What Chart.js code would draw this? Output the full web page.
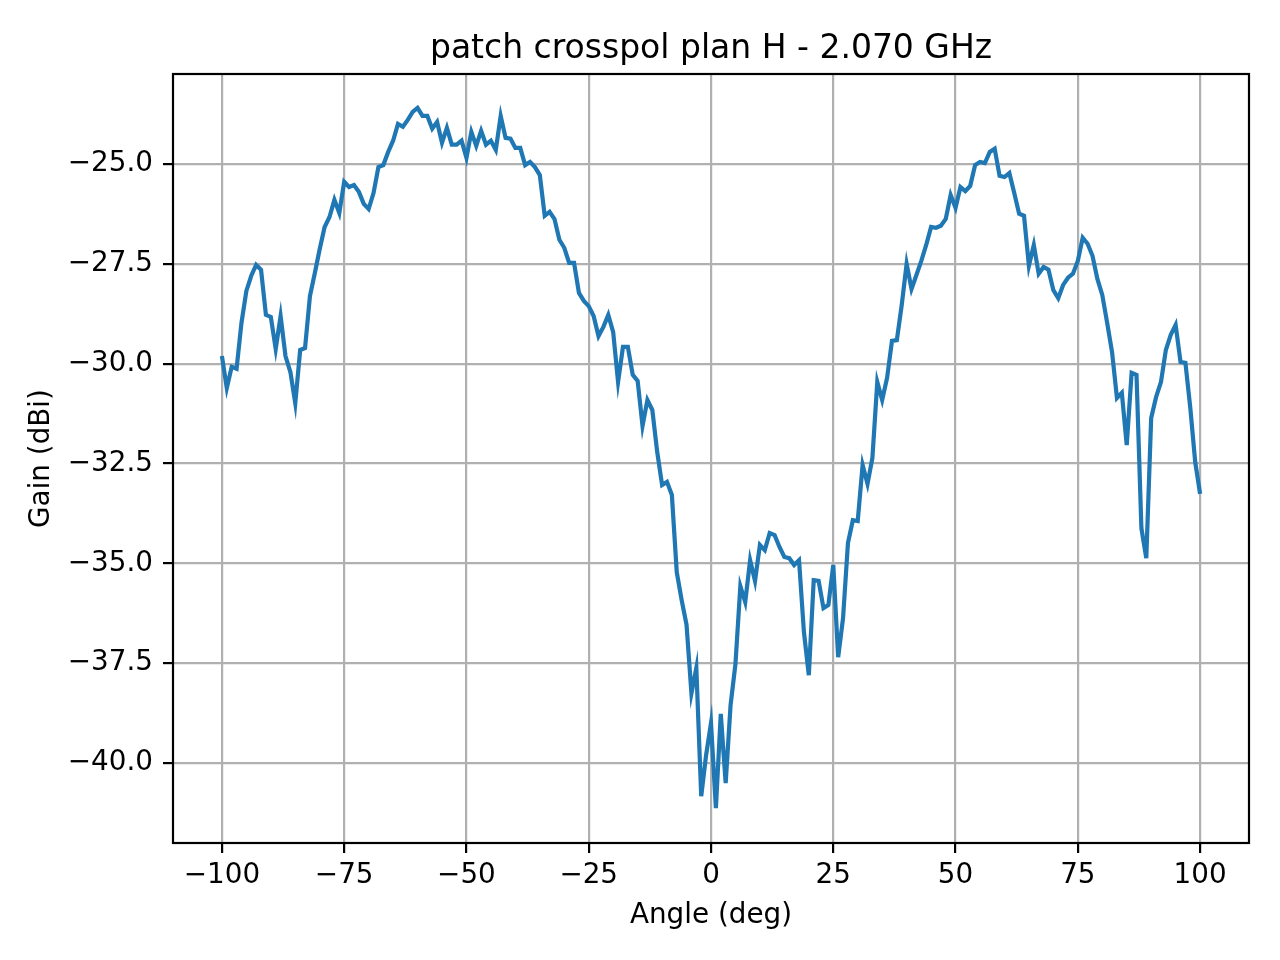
<!DOCTYPE html>
<html>
<head>
<meta charset="utf-8">
<script src="https://cdn.jsdelivr.net/npm/chart.js@4"></script>
<style>
  body { margin: 0; background: #fff; }
  canvas { display: block; }
</style>
</head>
<body>
<canvas id="myChart" width="1280" height="960"></canvas>
<script>
// angles de -100 a 100 deg, pas de 1
const angles = [];
for (let a = -100; a <= 100; a++) {
  angles.push(a);
}

// gain (dBi)
const gains = [
  -29.81, -30.61, -30.08, -30.13, -28.98, -28.18, -27.80, -27.53, -27.65, -28.78,
  -28.83, -29.63, -28.81, -29.81, -30.21, -30.99, -29.66, -29.61, -28.31, -27.73,
  -27.13, -26.58, -26.33, -25.90, -26.23, -25.45, -25.58, -25.53, -25.70, -26.00,
  -26.13, -25.73, -25.08, -25.03, -24.70, -24.42, -24.00, -24.07, -23.90, -23.70,
  -23.60, -23.80, -23.80, -24.12, -23.95, -24.47, -24.10, -24.52, -24.52, -24.42,
  -24.85, -24.20, -24.55, -24.17, -24.52, -24.42, -24.65, -23.80, -24.35, -24.37,
  -24.60, -24.60, -25.03, -24.95, -25.08, -25.28, -26.30, -26.20, -26.38, -26.90,
  -27.10, -27.48, -27.48, -28.23, -28.43, -28.56, -28.81, -29.31, -29.08, -28.78,
  -29.21, -30.46, -29.58, -29.58, -30.28, -30.43, -31.56, -30.91, -31.16, -32.21,
  -33.04, -32.96, -33.29, -35.22, -35.92, -36.54, -38.25, -37.62, -40.83, -39.80,
  -39.00, -41.13, -38.77, -40.50, -38.55, -37.52, -35.57, -35.97, -34.92, -35.44,
  -34.54, -34.67, -34.24, -34.29, -34.59, -34.84, -34.87, -35.04, -34.92, -36.72,
  -37.80, -35.42, -35.44, -36.12, -36.04, -35.04, -37.35, -36.37, -34.49, -33.92,
  -33.94, -32.54, -33.01, -32.36, -30.46, -30.91, -30.36, -29.43, -29.41, -28.53,
  -27.50, -28.13, -27.78, -27.43, -27.03, -26.58, -26.60, -26.55, -26.38, -25.78,
  -26.10, -25.58, -25.68, -25.55, -25.03, -24.95, -24.98, -24.70, -24.62, -25.30,
  -25.33, -25.23, -25.73, -26.25, -26.30, -27.55, -27.03, -27.75, -27.58, -27.65,
  -28.16, -28.36, -28.03, -27.85, -27.75, -27.43, -26.85, -27.00, -27.30, -27.88,
  -28.28, -28.98, -29.71, -30.86, -30.73, -32.04, -30.23, -30.28, -34.12, -34.87,
  -31.36, -30.84, -30.46, -29.66, -29.28, -29.03, -29.96, -29.98, -31.11, -32.46,
  -33.26
];

// graduations
const xTicks = [-100, -75, -50, -25, 0, 25, 50, 75, 100];
const yTicks = [-40, -37.5, -35, -32.5, -30, -27.5, -25];

const FONT = "'DejaVu Sans', sans-serif";

function minus(s) {
  return s.replace("-", "\u2212"); // signe moins typographique
}

// cadre complet (haut et droite inclus)
const framePlugin = {
  id: "frame",
  afterDatasetsDraw(chart) {
    const { ctx, chartArea: a } = chart;
    ctx.save();
    ctx.strokeStyle = "#000";
    ctx.lineWidth = 2.2;
    ctx.strokeRect(a.left, a.top, a.right - a.left, a.bottom - a.top);
    ctx.restore();
  },
};

const config = {
  type: "line",
  data: {
    datasets: [
      {
        data: angles.map((a, i) => ({ x: a, y: gains[i] })),
        borderColor: "#1f77b4",
        borderWidth: 4.2,
        pointRadius: 0,
        tension: 0,
        fill: false,
      },
    ],
  },
  options: {
    responsive: false,
    animation: false,
    devicePixelRatio: 1,
    layout: { padding: { left: 0, right: 31, top: 0, bottom: 0 } },
    plugins: {
      legend: { display: false },
      tooltip: { enabled: false },
      title: {
        display: true,
        fullSize: false,
        text: "patch crosspol plan H - 2.070 GHz",
        color: "#000",
        font: { family: FONT, size: 33, weight: "normal", lineHeight: 1.2 },
        padding: { top: 30, bottom: 4.4 },
      },
    },
    scales: {
      x: {
        type: "linear",
        min: -110,
        max: 110,
        afterBuildTicks(scale) {
          scale.ticks = xTicks.map((v) => ({ value: v }));
        },
        afterFit(scale) {
          scale.height = 117;
        },
        grid: {
          color: "#b0b0b0",
          lineWidth: 2.2,
          tickColor: "#000",
          tickWidth: 2.2,
          tickLength: 10,
        },
        border: { display: false },
        ticks: {
          color: "#000",
          padding: 6,
          maxRotation: 0,
          autoSkip: false,
          font: { family: FONT, size: 27.8 },
          callback: (v) => minus(String(v)),
        },
        title: {
          display: true,
          text: "Angle (deg)",
          color: "#000",
          font: { family: FONT, size: 27.8, lineHeight: 1.2 },
          padding: { top: 0, bottom: 28 },
        },
      },
      y: {
        type: "linear",
        min: -42.0,
        max: -22.75,
        afterBuildTicks(scale) {
          scale.ticks = yTicks.map((v) => ({ value: v }));
        },
        afterFit(scale) {
          scale.width = 173;
        },
        grid: {
          color: "#b0b0b0",
          lineWidth: 2.2,
          tickColor: "#000",
          tickWidth: 2.2,
          tickLength: 10,
        },
        border: { display: false },
        ticks: {
          color: "#000",
          padding: 10,
          autoSkip: false,
          font: { family: FONT, size: 27.8 },
          callback: (v) => minus(v.toFixed(1)),
        },
        title: {
          display: true,
          text: "Gain (dBi)",
          color: "#000",
          font: { family: FONT, size: 27.8, lineHeight: 1.2 },
          padding: { top: 25, bottom: 0 },
        },
      },
    },
  },
  plugins: [framePlugin],
};

let context = document.getElementById("myChart").getContext("2d");
let chart = new Chart(context, config);
</script>
</body>
</html>
